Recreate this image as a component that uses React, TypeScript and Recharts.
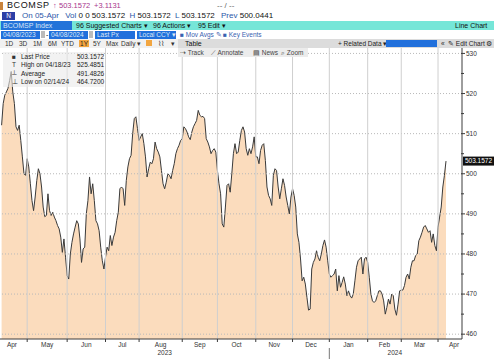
import { ComposedChart, Area, XAxis, YAxis, ReferenceLine } from "recharts";

// BCOMSP daily closes (Apr 2023 -> Apr 2024)
const prices = [
  512.1, 517.5, 519.6, 520.4, 521.3, 523.2, 525.5, 520.4, 517.5, 511.7,
  510.8, 512.1, 508.3, 504.2, 500, 499.6, 503.75, 501.7, 497.5, 493.3,
  490.8, 494.2, 498.3, 501.25, 500, 496.7, 491.7, 489.3, 489.6, 495,
  490.8, 489.6, 490.4, 489.2, 488.3, 487.1, 486.25, 484.2, 480.4, 483.75,
  479.2, 474.6, 473.75, 480, 482.9, 485, 486.7, 488.3, 487.5, 483.75,
  477.9, 481.25, 481.7, 490, 493.3, 499.2, 495, 497.5, 493.3, 488.3,
  487.5, 485.8, 481.7, 478.3, 476.25, 479.2, 481.7, 480.8, 484.6, 482.1,
  484.2, 485.4, 488.3, 490.4, 496.25, 496.7,
  496.25, 492.1, 498.3, 501.7, 503.75, 504.6, 510, 513.75, 514.2, 511.25,
  508.3, 509.2, 510, 507.5, 504.2, 499.2, 501.25, 502.9, 502.5, 503.75,
  507.9, 506.25, 505.4, 504.2, 500.8, 497.5, 496.25, 497.9, 500, 499.6,
  498.75, 500.8, 502.5, 505, 506.25, 507.1, 508.3, 508.75, 511.7, 511.25,
  510.4, 509.2, 508.5, 510.4, 511.7, 512.5, 513.3, 515.8, 514.6, 514.2,
  514.3, 513.75, 508.75, 507.9, 506.7, 505, 505.8, 506.25, 505.4, 500.8,
  497.5, 495, 487.5, 486.7, 491.7, 497.1, 497.5, 495.4, 500, 505, 507.5,
  505, 505.4, 508.3, 510.8, 511.7, 510.4, 506.25, 504.6, 506.25, 505,
  506.7, 509.2, 504.2, 504.2, 502.5, 505.8, 507.1, 507.5, 503.3, 496.7,
  494.6, 493.75, 492.1, 499.6, 501.25, 500.8, 496.7, 493.75, 496.25, 498.75,
  497.1, 494.2, 492.1, 490, 494.2, 496.25, 494.6, 491.7, 485, 482.9,
  478.75, 473.3, 474.2, 472.5, 469.2, 466, 466.25, 476.25, 477.9, 478.75,
  480.8, 479.2, 478.3, 480, 482.1, 483.5, 481.7, 478.3, 475, 474.2,
  474.6, 475, 476.25, 470.8, 474.6, 471.7, 472.9, 474.3, 472.5, 469.6,
  470.8, 469.6, 469, 470, 473.3, 476.7, 478.3, 478.75, 479.2, 475,
  478.75, 479.2, 477.9, 474.2, 470, 468.3, 467.9, 468.3, 469.6, 470.8,
  470.8, 470, 468.3, 465, 466.7, 468.75, 467.5, 470, 469.6, 466.25,
  464.72, 467.5, 470.8, 471, 471, 472.1, 474.2, 475, 473.75, 476.7,
  478.3, 478.3, 479.6, 480, 483.3, 484.2, 485.4, 486.7, 487.1, 486.25,
  485.4, 485.8, 482.9, 485, 482.1, 480.8, 486.7, 489.2, 491.7, 496.7,
  499.6, 503.1572,
];

// sample index where each month starts (May 2023 .. Apr 2024)
const monthStartIdx = [16, 41, 65, 86, 113, 135, 159, 182, 205, 229, 250, 273];
const monthLabels = ["Apr", "May", "Jun", "Jul", "Aug", "Sep", "Oct", "Nov", "Dec", "Jan", "Feb", "Mar", "Apr"];
const yearLabels = ["2023", "2024"];
const yearMidIdx = [102, 246];
const yearBreakIdx = 205;
const yMajor = [460, 470, 480, 490, 500, 510, 520, 530];
const yMinor = [465, 475, 485, 495, 505, 515, 525];
const lastPx = 503.1572;

const legendRows = [
  { icon: "■", label: "Last Price", value: "503.1572" },
  { icon: "T", label: "High on 04/18/23", value: "525.4851" },
  { icon: "┴", label: "Average", value: "491.4826" },
  { icon: "⊥", label: "Low on 02/14/24", value: "464.7200" },
];

const X_DOMAIN: [number, number] = [-1, 288];
const FONT = "'Liberation Sans', Arial, sans-serif";
const AX = "#3c3c3c";

const data = prices.map((p, i) => ({ i, px: p }));

// ticks on x: month starts (tick marks), month mids (labels), year mids
type TickDef = { v: number; kind: "start" | "month" | "year"; text?: string };
const tickDefs: TickDef[] = [];
monthStartIdx.forEach(v => tickDefs.push({ v, kind: "start" }));
monthLabels.forEach((m, k) => {
  const a = k === 0 ? X_DOMAIN[0] + 1 : monthStartIdx[k - 1];
  const b = k < monthStartIdx.length ? monthStartIdx[k] : monthStartIdx[k - 1] + 20;
  const mid = k === 0 ? (a + b) / 2 - 1.5 : (a + b) / 2;
  tickDefs.push({ v: mid, kind: "month", text: m });
});
yearLabels.forEach((y, k) => tickDefs.push({ v: yearMidIdx[k], kind: "year", text: y }));
tickDefs.sort((a, b) => a.v - b.v);

const XTick = (props: any) => {
  const { x, y, payload } = props;
  const d = tickDefs.find(t => t.v === payload.value);
  if (!d) return null;
  if (d.kind === "start") {
    return (
      <g>
        <line x1={x} x2={x} y1={y} y2={y + 3} stroke={AX} />
        {d.v === yearBreakIdx && <line x1={x} x2={x} y1={y + 9} y2={y + 20} stroke="#777" />}
      </g>
    );
  }
  return (
    <text x={x} y={d.kind === "month" ? y + 8 : y + 16} textAnchor="middle"
      fontSize={6.5} fontFamily={FONT} fill="#333">{d.text}</text>
  );
};

const YTick = (props: any) => {
  const { x, y, payload } = props;
  const major = yMajor.includes(payload.value);
  return (
    <g>
      <line x1={x - 1} x2={x + (major ? 3 : 2)} y1={y} y2={y} stroke={AX} />
      {major && (
        <text x={x + 4} y={y + 2.3} fontSize={6.5} fontFamily={FONT} fill="#333">{payload.value}</text>
      )}
    </g>
  );
};

const LastLabel = (props: any) => {
  const vb = props.viewBox;
  const x = vb.x + vb.width + 1;
  return (
    <g>
      <rect x={x} y={vb.y - 4.5} width={31} height={9} fill="#111" />
      <text x={x + 15.5} y={vb.y + 2.3} textAnchor="middle" fontSize={6.5} fontFamily={FONT} fill="#fff">
        {lastPx.toFixed(4)}
      </text>
    </g>
  );
};

const abs = (left: number, top: number, extra: any = {}) => ({
  position: "absolute" as const, left, top, whiteSpace: "nowrap" as const, ...extra,
});

const blueBox = (left: number, top: number, width: number, text: string) => (
  <div style={abs(left, top, { width, height: 8, background: "#2170dc", color: "#dfe8f6", fontSize: 6.5, lineHeight: "8px", paddingLeft: 2, boxSizing: "border-box" })}>{text}</div>
);

function Header() {
  const lbl = "#2b56a8";
  return (
    <div style={{ position: "absolute", left: 0, top: 0, width: 494, height: 58, fontFamily: FONT, pointerEvents: "none" }}>
      {/* row 1 */}
      <div style={abs(0, 2, { width: 3, height: 8, background: "#c9843c" })} />
      <div style={abs(7, 0, { fontSize: 9, lineHeight: "11px", color: "#111", letterSpacing: 0.6 })}>BCOMSP</div>
      <div style={abs(53, 0, { fontSize: 7.5, lineHeight: "11px", color: "#a8378d" })}>↑</div>
      <div style={abs(59, 0, { fontSize: 7.5, lineHeight: "11px", color: "#a8378d" })}>503.1572</div>
      <div style={abs(94, 0, { fontSize: 7.5, lineHeight: "11px", color: "#a8378d" })}>+3.1131</div>
      <div style={abs(217, 0, { fontSize: 8, lineHeight: "11px", color: "#666" })}>-- / --</div>
      {/* row 2 */}
      <div style={abs(2, 12, { width: 13, height: 8, background: "#2d3fa6", color: "#fff", fontSize: 6.5, lineHeight: "8px", textAlign: "center" })}>N</div>
      <div style={abs(22, 11, { fontSize: 8, lineHeight: "10px", color: "#111" })}>
        <span style={{ color: lbl }}>On 05-Apr</span>{"  "}
        <span style={{ color: lbl, marginLeft: 4 }}>Vol</span> 0 0 503.1572{" "}
        <span style={{ color: lbl, marginLeft: 2 }}>H</span> 503.1572{" "}
        <span style={{ color: lbl, marginLeft: 2 }}>L</span> 503.1572{" "}
        <span style={{ color: lbl, marginLeft: 4 }}>Prev</span> 500.0441
      </div>
      {/* row 3 */}
      <div style={abs(0, 21, { width: 494, height: 9, background: "#76e6d8" })} />
      <div style={abs(1, 21, { width: 71, height: 9, background: "#2373d9", color: "#d8e6f7", fontSize: 7, lineHeight: "9px", paddingLeft: 2, boxSizing: "border-box" })}>BCOMSP Index</div>
      <div style={abs(76, 21, { fontSize: 7, lineHeight: "9px", color: "#111" })}>96 Suggested Charts ▾</div>
      <div style={abs(153, 21, { fontSize: 7, lineHeight: "9px", color: "#111" })}>96 Actions ▾</div>
      <div style={abs(198, 21, { fontSize: 7, lineHeight: "9px", color: "#111" })}>95 Edit ▾</div>
      <div style={abs(455, 21, { fontSize: 7, lineHeight: "9px", color: "#111" })}>Line Chart</div>
      {/* row 4 */}
      {blueBox(1, 31, 39, "04/08/2023")}
      <div style={abs(41, 31, { width: 4, height: 7, background: "#bbb" })} />
      <div style={abs(46, 30, { fontSize: 7, lineHeight: "9px" })}>-</div>
      {blueBox(49, 31, 39, "04/08/2024")}
      <div style={abs(89, 31, { width: 4, height: 7, background: "#bbb" })} />
      {blueBox(95, 31, 40, "Last Px")}
      {blueBox(137, 31, 39, "Local CCY ▾")}
      <div style={abs(180, 30, { fontSize: 6.5, lineHeight: "9px", color: "#3a62b0" })}>■ Mov Avgs ✎</div>
      <div style={abs(223, 30, { fontSize: 6.5, lineHeight: "9px", color: "#3a62b0" })}>■ Key Events</div>
      {/* row 5 */}
      <div style={abs(0, 39, { width: 178, height: 9, background: "#f1f1f1" })} />
      <div style={abs(178, 39, { width: 316, height: 9, background: "#dcdcdc" })} />
      {["1D", "3D", "1M", "6M", "YTD"].map((t, k) => (
        <div key={t} style={abs([5, 19, 33, 48, 61][k], 39, { fontSize: 6.5, lineHeight: "9px", color: "#333" })}>{t}</div>
      ))}
      <div style={abs(79, 40, { width: 10, height: 7, background: "#f2a640", fontSize: 6.5, lineHeight: "7px", textAlign: "center", color: "#222" })}>1Y</div>
      <div style={abs(93, 39, { fontSize: 6.5, lineHeight: "9px", color: "#333" })}>5Y</div>
      <div style={abs(106, 39, { fontSize: 6.5, lineHeight: "9px", color: "#333" })}>Max</div>
      <div style={abs(121, 39, { fontSize: 6.5, lineHeight: "9px", color: "#333" })}>Daily ▾</div>
      <div style={abs(146, 40, { width: 6, height: 6, background: "#f2a640" })} />
      <div style={abs(158, 39, { fontSize: 6.5, lineHeight: "9px", color: "#333" })}>⌇⌇</div>
      <div style={abs(171, 39, { fontSize: 6.5, lineHeight: "9px", color: "#333" })}>▾</div>
      <div style={abs(185, 39, { fontSize: 7, lineHeight: "9px", color: "#111" })}>Table</div>
      <div style={abs(338, 39, { fontSize: 6.5, lineHeight: "9px", color: "#222" })}>+ Related Data ▾</div>
      <div style={abs(386, 40, { width: 51, height: 7, background: "#2170dc" })} />
      <div style={abs(441, 39, { fontSize: 6.5, lineHeight: "9px", color: "#222" })}>«</div>
      <div style={abs(448, 39, { fontSize: 6.5, lineHeight: "9px", color: "#222" })}>✎ Edit Chart</div>
      <div style={abs(486, 39, { fontSize: 7, lineHeight: "9px", color: "#222" })}>⚙</div>
      {/* row 6 */}
      <div style={abs(178, 48, { width: 130, height: 9, background: "#ececec" })} />
      <div style={abs(180, 48, { fontSize: 6.5, lineHeight: "9px", color: "#444" })}>⇢ Track</div>
      <div style={abs(211, 48, { fontSize: 6.5, lineHeight: "9px", color: "#444" })}>⟋ Annotate</div>
      <div style={abs(253, 48, { fontSize: 6.5, lineHeight: "9px", color: "#444" })}>▤ News</div>
      <div style={abs(281, 48, { fontSize: 6.5, lineHeight: "9px", color: "#444" })}>⌕ Zoom</div>
    </div>
  );
}

function Legend() {
  return (
    <div style={abs(3, 52, { width: 101, height: 35, background: "rgba(234,234,234,0.6)", fontFamily: FONT, fontSize: 6.5, color: "#222" })}>
      {legendRows.map((r, k) => (
        <div key={r.label} style={abs(0, 1 + k * 8.3, { width: 101, height: 8, lineHeight: "8px" })}>
          <span style={abs(9, 0, { color: "#333" })}>{r.icon}</span>
          <span style={abs(18, 0)}>{r.label}</span>
          <span style={abs(74, 0)}>{r.value}</span>
        </div>
      ))}
    </div>
  );
}

export default function App() {
  return (
    <div style={{ position: "absolute", left: 0, top: 0, width: 494, height: 359, background: "#fff", overflow: "hidden" }}>
      <ComposedChart width={494} height={359} data={data} margin={{ top: 45, right: 0, bottom: 0, left: 0 }}>
        <XAxis dataKey="i" type="number" domain={X_DOMAIN} allowDataOverflow
          ticks={tickDefs.map(t => t.v)} interval={0} tick={<XTick />}
          tickLine={false} tickSize={0} tickMargin={0} height={20}
          axisLine={{ stroke: AX }} />
        <YAxis orientation="right" domain={[458.8, 532.1]} allowDataOverflow
          ticks={[...yMajor, ...yMinor].sort((a, b) => a - b)} interval={0} tick={<YTick />}
          tickLine={false} tickSize={0} tickMargin={0} width={32}
          axisLine={{ stroke: AX }} />
        <Area type="linear" dataKey="px" stroke="#3a3a3a" strokeWidth={1}
          fill="#fbdcbd" fillOpacity={1} dot={false} activeDot={false} isAnimationActive={false} />
        {yMajor.map(v => (
          <ReferenceLine key={"h" + v} y={v} stroke="#b9b9b9" strokeDasharray="1 2" />
        ))}
        {monthStartIdx.map(v => (
          <ReferenceLine key={"v" + v} x={v} stroke="#cfcfcf" />
        ))}
        <ReferenceLine y={lastPx} stroke="none" label={<LastLabel />} />
      </ComposedChart>
      <Header />
      <Legend />
    </div>
  );
}
